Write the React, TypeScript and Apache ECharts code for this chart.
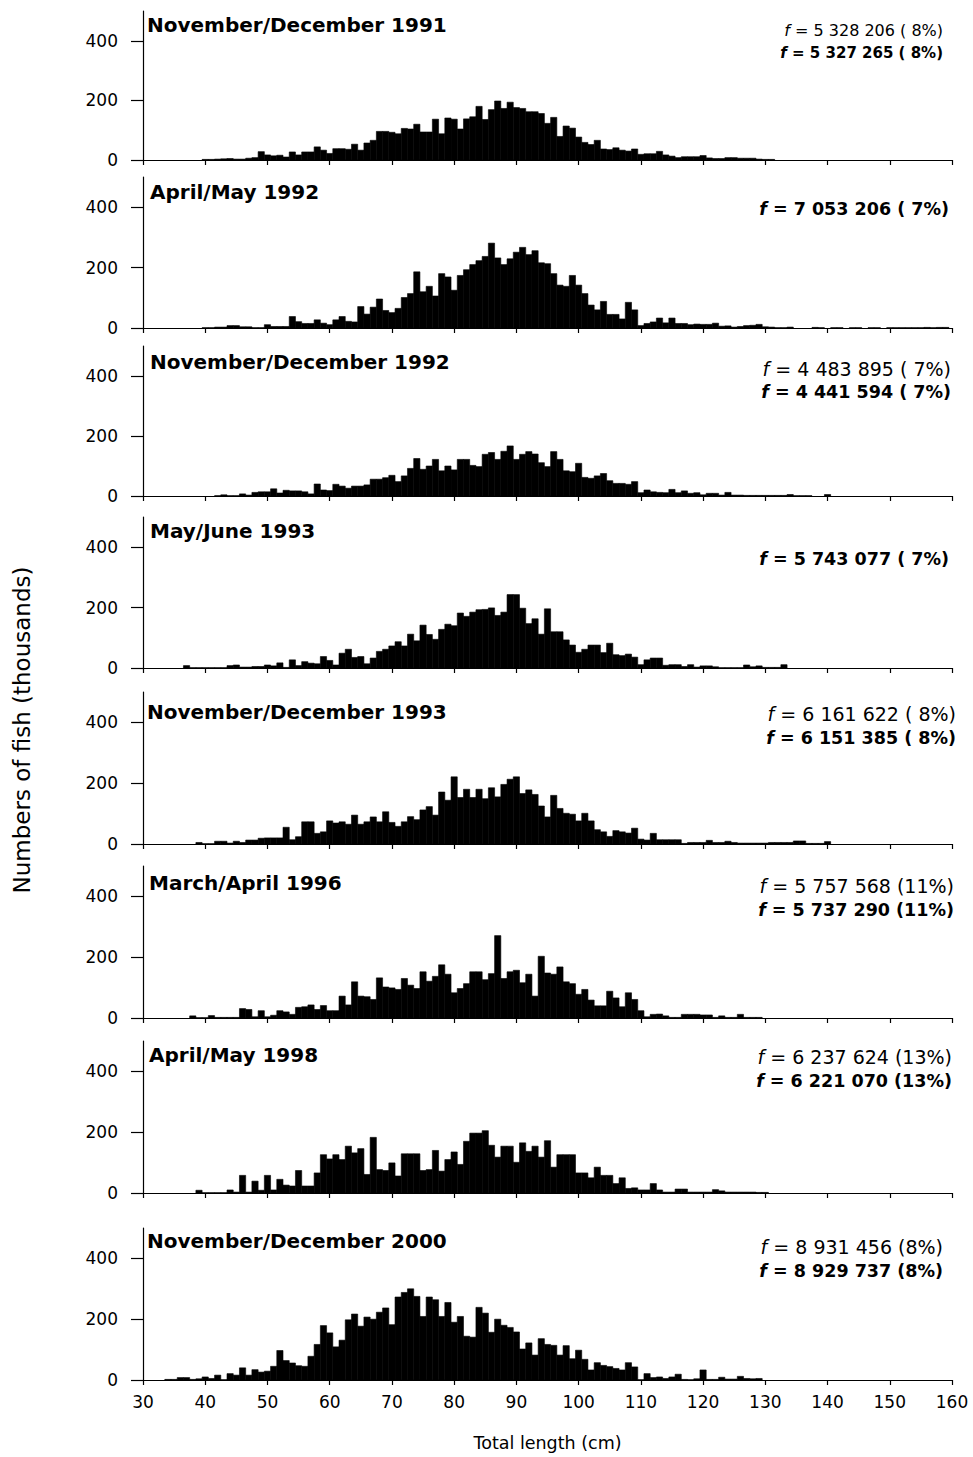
import { useEffect, useRef } from "react";
import * as echarts from "echarts";

const FONT = "'DejaVu Sans', 'Liberation Sans', Arial, sans-serif";

// Numbers of fish (thousands) per 1-cm total-length class, one array per survey.
// Each array starts at the length class given by its *Start constant.
const nov1991Start = 40;
const nov1991 = [
  2, 2, 3, 4, 5, 3, 3, 6, 8, 28,
  17, 14, 16, 10, 27, 17, 27, 27, 44, 33,
  22, 38, 38, 36, 53, 33, 57, 66, 96, 96,
  93, 88, 106, 104, 120, 94, 94, 137, 88, 141,
  137, 104, 138, 145, 180, 136, 169, 198, 173, 194,
  176, 173, 162, 162, 156, 123, 143, 79, 114, 107,
  77, 59, 52, 66, 37, 35, 41, 33, 30, 37,
  19, 21, 21, 29, 17, 13, 8, 11, 11, 11,
  15, 7, 5, 5, 8, 8, 6, 6, 6, 3,
  2, 2,
];

const apr1992Start = 40;
const apr1992 = [
  1, 1, 3, 3, 8, 8, 4, 4, 1, 1,
  11, 5, 5, 5, 38, 21, 15, 15, 27, 16,
  11, 27, 38, 22, 20, 71, 46, 69, 96, 58,
  51, 65, 101, 114, 186, 120, 138, 106, 180, 169,
  125, 174, 193, 210, 223, 237, 281, 232, 210, 229,
  251, 267, 243, 256, 216, 213, 180, 142, 138, 174,
  142, 114, 76, 60, 88, 45, 45, 30, 85, 60,
  8, 15, 20, 33, 17, 33, 15, 15, 11, 13,
  12, 12, 16, 6, 7, 3, 5, 8, 9, 12,
  4, 3, 1, 1, 3, 0, 0, 0, 2, 1,
  0, 1, 1, 0, 1, 1, 0, 1, 1, 0,
  1, 1, 1, 1, 1, 1, 2, 1, 2, 2,
];

const nov1992Start = 40;
const nov1992 = [
  0, 0, 1, 4, 1, 1, 7, 3, 12, 14,
  14, 24, 10, 19, 17, 17, 14, 7, 40, 20,
  18, 39, 33, 26, 33, 33, 37, 56, 56, 61,
  69, 48, 67, 92, 125, 89, 100, 122, 84, 100,
  87, 122, 122, 102, 98, 139, 145, 122, 149, 167,
  122, 139, 148, 140, 111, 98, 148, 122, 84, 81,
  109, 62, 59, 67, 75, 51, 42, 42, 39, 48,
  11, 20, 14, 12, 11, 22, 11, 17, 9, 11,
  4, 9, 9, 3, 12, 3, 3, 2, 2, 2,
  2, 2, 2, 2, 5, 1, 1, 1, 0, 0,
  5,
];

const may1993Start = 37;
const may1993 = [
  8, 1, 1, 1, 1, 1, 1, 8, 10, 3,
  3, 5, 5, 10, 7, 17, 2, 27, 8, 21,
  16, 14, 38, 25, 10, 49, 62, 35, 38, 14,
  33, 55, 62, 73, 87, 73, 112, 90, 142, 111,
  95, 128, 145, 140, 182, 171, 185, 193, 194, 199,
  174, 185, 243, 243, 198, 147, 163, 112, 196, 120,
  120, 93, 76, 52, 62, 76, 76, 51, 82, 44,
  41, 46, 36, 11, 27, 33, 33, 9, 11, 11,
  5, 11, 3, 7, 7, 4, 1, 1, 1, 1,
  10, 4, 7, 2, 2, 2, 11,
];

const nov1993Start = 39;
const nov1993 = [
  5, 1, 1, 9, 9, 3, 9, 5, 13, 13,
  19, 20, 20, 20, 55, 14, 24, 73, 73, 35,
  40, 76, 69, 73, 65, 95, 65, 73, 89, 73,
  106, 71, 58, 73, 90, 80, 112, 123, 95, 171,
  144, 221, 153, 180, 153, 180, 149, 185, 155, 196,
  213, 221, 166, 178, 163, 125, 89, 160, 117, 101,
  98, 76, 101, 76, 47, 40, 25, 44, 40, 36,
  52, 16, 13, 35, 14, 14, 14, 14, 2, 5,
  5, 5, 12, 5, 5, 9, 5, 3, 3, 3,
  3, 3, 5, 5, 5, 5, 10, 10, 2, 2,
  2, 8,
];

const mar1996Start = 38;
const mar1996 = [
  7, 1, 1, 8, 2, 2, 2, 2, 31, 28,
  4, 24, 4, 9, 24, 20, 12, 35, 37, 43,
  28, 41, 24, 24, 72, 43, 119, 72, 70, 61,
  132, 102, 99, 94, 130, 108, 97, 152, 121, 137,
  175, 144, 83, 97, 113, 152, 152, 126, 146, 271,
  130, 152, 157, 116, 144, 72, 203, 148, 144, 168,
  119, 113, 78, 94, 59, 40, 40, 88, 66, 37,
  83, 61, 24, 4, 12, 13, 7, 2, 2, 12,
  12, 12, 10, 10, 2, 7, 2, 2, 12, 2,
  2, 2,
];

const apr1998Start = 39;
const apr1998 = [
  9, 1, 1, 1, 1, 10, 3, 58, 3, 39,
  9, 58, 10, 45, 26, 23, 74, 23, 23, 66,
  126, 112, 126, 110, 154, 132, 146, 61, 183, 77,
  74, 99, 56, 129, 129, 129, 74, 77, 140, 72,
  110, 135, 94, 170, 197, 197, 205, 157, 118, 154,
  154, 101, 165, 137, 154, 118, 172, 85, 126, 126,
  126, 66, 66, 50, 85, 58, 58, 31, 50, 15,
  17, 10, 10, 31, 10, 3, 3, 13, 13, 3,
  3, 3, 3, 11, 7, 3, 3, 3, 3, 3,
  2, 2,
];

const nov2000Start = 34;
const nov2000 = [
  2, 2, 8, 8, 2, 4, 10, 5, 16, 1,
  21, 16, 40, 16, 34, 26, 29, 45, 97, 64,
  56, 47, 45, 78, 117, 179, 155, 109, 131, 198,
  217, 177, 207, 200, 223, 237, 182, 273, 288, 300,
  275, 209, 273, 264, 209, 255, 190, 209, 144, 141,
  239, 220, 157, 200, 180, 173, 158, 102, 122, 82,
  136, 117, 114, 82, 113, 70, 98, 68, 33, 57,
  48, 44, 38, 33, 57, 43, 1, 21, 8, 10,
  5, 10, 19, 2, 1, 4, 33, 2, 2, 9,
  3, 3, 12, 5, 4, 5,
];

// Survey labels and estimated totals (f) with CV in brackets
const surveyNames = [
  "November/December 1991",
  "April/May 1992",
  "November/December 1992",
  "May/June 1993",
  "November/December 1993",
  "March/April 1996",
  "April/May 1998",
  "November/December 2000",
];
const totalsPlain = [
  "5 328 206 ( 8%)",
  "",
  "4 483 895 ( 7%)",
  "",
  "6 161 622 ( 8%)",
  "5 757 568 (11%)",
  "6 237 624 (13%)",
  "8 931 456 (8%)",
];
const totalsBold = [
  "5 327 265 ( 8%)",
  "7 053 206 ( 7%)",
  "4 441 594 ( 7%)",
  "5 743 077 ( 7%)",
  "6 151 385 ( 8%)",
  "5 737 290 (11%)",
  "6 221 070 (13%)",
  "8 929 737 (8%)",
];
const seriesCounts = [nov1991, apr1992, nov1992, may1993, nov1993, mar1996, apr1998, nov2000];
const seriesStarts = [
  nov1991Start, apr1992Start, nov1992Start, may1993Start,
  nov1993Start, mar1996Start, apr1998Start, nov2000Start,
];

const lengthMin = 30;
const lengthMax = 160;
const lengthStep = 10;
const countMax = 500;
const countTicks = [0, 200, 400];

// Page layout of the stacked panels
const PLOT_LEFT = 143;
const PLOT_RIGHT = 952;
const baselines = [160, 328, 496, 668, 844, 1018, 1193, 1380];
const heights = [149, 151, 150, 151, 152, 152, 152, 152];
const titleLeft = [147, 150, 150, 150, 147, 149, 149, 147];
const titleY = [25, 192, 362, 531, 712, 883, 1055, 1241];
const noteRight = [943, 949, 951, 949, 956, 954, 952, 943];
const notePlainY = [30, 0, 369, 0, 714, 886, 1057, 1247];
const noteBoldY = [53, 209, 392, 559, 738, 910, 1081, 1271];
const notePlainSize = [16, 19, 19, 19, 19, 19, 19, 19];
const noteBoldSize = [15, 17.5, 17.5, 17.5, 17.5, 17.5, 17.5, 17.5];

function App() {
  const ref = useRef<HTMLDivElement>(null);

  useEffect(() => {
    if (!ref.current) return;
    const chart = echarts.init(ref.current, undefined, { renderer: "svg" });
    const n = surveyNames.length;

    const grids = baselines.map((b, i) => ({
      left: PLOT_LEFT,
      width: PLOT_RIGHT - PLOT_LEFT,
      top: b - heights[i],
      height: heights[i],
      containLabel: false,
      outerBoundsMode: "none",
    }));

    const xAxes = baselines.map((_, i) => ({
      type: "value",
      gridIndex: i,
      min: lengthMin,
      max: lengthMax,
      interval: lengthStep,
      axisLine: { show: true, lineStyle: { color: "#000", width: 1.2 } },
      axisTick: { show: true, inside: false, length: 5, lineStyle: { color: "#000", width: 1.2 } },
      axisLabel: {
        show: i === n - 1,
        color: "#000",
        fontFamily: FONT,
        fontSize: 17,
        margin: 13,
      },
      splitLine: { show: false },
      name: i === n - 1 ? "Total length (cm)" : "",
      nameLocation: "middle",
      nameGap: 54,
      nameTextStyle: { color: "#000", fontFamily: FONT, fontSize: 17.5 },
    }));

    const yAxes = baselines.map((_, i) => ({
      type: "value",
      gridIndex: i,
      min: 0,
      max: countMax,
      axisLine: { show: true, lineStyle: { color: "#000", width: 1.2 } },
      axisTick: {
        show: true,
        inside: false,
        length: 12,
        customValues: countTicks,
        lineStyle: { color: "#000", width: 1.2 },
      },
      axisLabel: {
        color: "#000",
        fontFamily: FONT,
        fontSize: 17,
        margin: 25,
        customValues: countTicks,
      },
      splitLine: { show: false },
    }));

    const series = seriesCounts.map((counts, i) => ({
      type: "custom",
      xAxisIndex: i,
      yAxisIndex: i,
      silent: true,
      clip: true,
      data: counts.map((v, k) => [seriesStarts[i] + k, v]),
      renderItem: (_params: any, api: any) => {
        const len = api.value(0);
        const v = api.value(1);
        if (!v) return null;
        const top = api.coord([len - 0.5, v]);
        const bottom = api.coord([len + 0.5, 0]);
        return {
          type: "rect",
          shape: {
            x: top[0],
            y: top[1],
            width: bottom[0] - top[0],
            height: bottom[1] - top[1],
          },
          style: { fill: "#000", stroke: "#000", lineWidth: 0.6 },
        };
      },
    }));

    const italicF = (bold: boolean, size: number) => ({
      fontStyle: "italic",
      fontWeight: bold ? "bold" : "normal",
      fontFamily: FONT,
      fontSize: size,
      fill: "#000",
    });

    const graphics: any[] = [];
    surveyNames.forEach((name, i) => {
      graphics.push({
        type: "text",
        x: titleLeft[i],
        y: titleY[i],
        style: {
          text: name,
          fontFamily: FONT,
          fontWeight: "bold",
          fontSize: 20,
          fill: "#000",
          align: "left",
          verticalAlign: "middle",
        },
      });
      if (totalsPlain[i]) {
        graphics.push({
          type: "text",
          x: noteRight[i],
          y: notePlainY[i],
          style: {
            text: "{f|f} = " + totalsPlain[i],
            fontFamily: FONT,
            fontSize: notePlainSize[i],
            fill: "#000",
            align: "right",
            verticalAlign: "middle",
            rich: { f: italicF(false, notePlainSize[i]) },
          },
        });
      }
      graphics.push({
        type: "text",
        x: noteRight[i],
        y: noteBoldY[i],
        style: {
          text: "{f|f} = " + totalsBold[i],
          fontFamily: FONT,
          fontWeight: "bold",
          fontSize: noteBoldSize[i],
          fill: "#000",
          align: "right",
          verticalAlign: "middle",
          rich: { f: italicF(true, noteBoldSize[i]) },
        },
      });
    });
    graphics.push({
      type: "text",
      x: 22,
      y: 730,
      rotation: Math.PI / 2,
      style: {
        text: "Numbers of fish (thousands)",
        fontFamily: FONT,
        fontSize: 23,
        fill: "#000",
        align: "center",
        verticalAlign: "middle",
      },
    });

    chart.setOption({
      animation: false,
      backgroundColor: "#fff",
      grid: grids,
      xAxis: xAxes,
      yAxis: yAxes,
      series,
      graphic: graphics,
    });

    return () => chart.dispose();
  }, []);

  return (
    <div
      ref={ref}
      style={{ position: "absolute", left: 0, top: 0, width: 973, height: 1457, background: "#fff" }}
    />
  );
}

export default App;
